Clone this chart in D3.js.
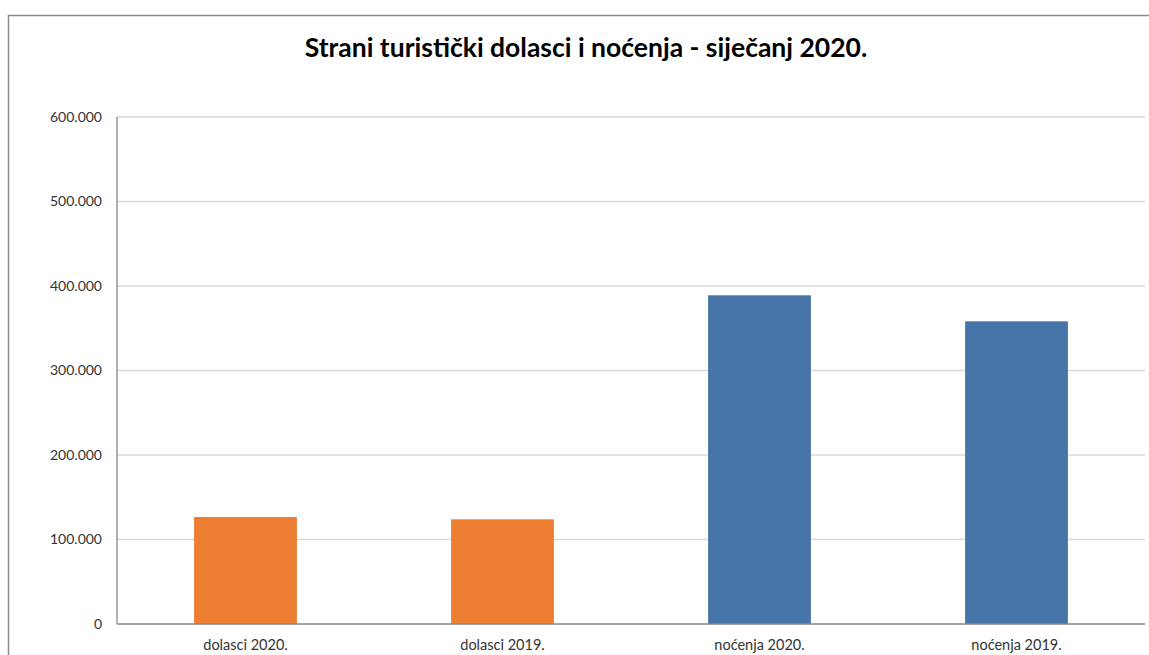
<!DOCTYPE html>
<html><head><meta charset="utf-8">
<script src="https://cdn.jsdelivr.net/npm/d3@7"></script>
<style>body{margin:0;background:#fff}svg{display:block}</style>
</head><body>
<script>
const categories = ["dolasci 2020.", "dolasci 2019.", "noćenja 2020.", "noćenja 2019."];
const values = [126600, 123900, 389000, 358200];
const barColors = ["#ED7D31", "#ED7D31", "#4673A8", "#4673A8"];
const yTicks = [0, 100000, 200000, 300000, 400000, 500000, 600000];
const title = "Strani turistički dolasci i noćenja - siječanj 2020.";

const W = 1149, H = 655;
const svg = d3.select("body").append("svg").attr("width", W).attr("height", H);
const font = "Lato, 'Open Sans', sans-serif";

svg.append("rect").attr("x", 8.5).attr("y", 15.5).attr("width", W + 20).attr("height", H + 20)
  .attr("fill", "none").attr("stroke", "#8a8a8a").attr("stroke-width", 1.5);

const m = {left: 117, right: 1145, top: 117, bottom: 624};
const x = d3.scaleBand().domain(categories).range([m.left, m.right]).paddingInner(0.6).paddingOuter(0.3);
const y = d3.scaleLinear().domain([0, 600000]).range([m.bottom, m.top]);

const fmt = v => v === 0 ? "0" : d3.format(",")(v).replace(/,/g, ".");

// gridlines
svg.append("g").selectAll("line").data(yTicks.filter(t => t > 0)).join("line")
  .attr("x1", m.left).attr("x2", m.right)
  .attr("y1", d => y(d)).attr("y2", d => y(d))
  .attr("stroke", "#d9d9d9").attr("stroke-width", 1.3);

// bars
svg.append("g").selectAll("rect").data(values).join("rect")
  .attr("x", (d, i) => x(categories[i])).attr("width", x.bandwidth())
  .attr("y", d => y(d)).attr("height", d => y(0) - y(d))
  .attr("fill", (d, i) => barColors[i]);

// axes lines
svg.append("line").attr("x1", m.left).attr("x2", m.left).attr("y1", m.top).attr("y2", m.bottom)
  .attr("stroke", "#888").attr("stroke-width", 1.3);
svg.append("line").attr("x1", m.left).attr("x2", m.right).attr("y1", m.bottom).attr("y2", m.bottom)
  .attr("stroke", "#888").attr("stroke-width", 1.3);

// y tick labels
svg.append("g").selectAll("text").data(yTicks).join("text")
  .attr("x", 102).attr("y", d => y(d)).attr("dy", "0.35em")
  .attr("text-anchor", "end").attr("font-family", font).attr("font-size", 14)
  .attr("fill", "#333").text(fmt);

// category labels
svg.append("g").selectAll("text").data(categories).join("text")
  .attr("x", d => x(d) + x.bandwidth() / 2).attr("y", 650)
  .attr("text-anchor", "middle").attr("font-family", font).attr("font-size", 14.5)
  .attr("fill", "#333").text(d => d);

// title
svg.append("text").attr("x", 586).attr("y", 57).attr("text-anchor", "middle")
  .attr("font-family", font).attr("font-weight", "bold").attr("font-size", 26.5)
  .attr("fill", "#000").text(title);
</script>
</body></html>
